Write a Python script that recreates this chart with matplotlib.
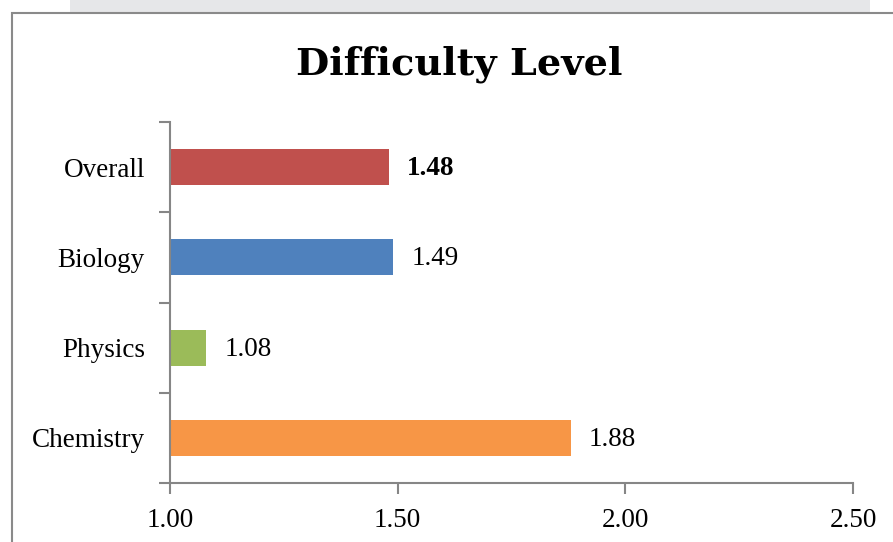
import matplotlib.pyplot as plt
from matplotlib.patches import Rectangle

categories = ["Chemistry", "Physics", "Biology", "Overall"]
values = [1.88, 1.08, 1.49, 1.48]
colors = ["#F79646", "#9BBB59", "#4F81BD", "#C0504D"]
xticks = [1.00, 1.50, 2.00, 2.50]
title = "Difficulty Level"

plt.rcParams["font.family"] = ["Liberation Serif", "DejaVu Serif"]

fig = plt.figure(figsize=(8.93, 5.42), dpi=100)
W, H = 893, 542

# page-like frame behind the chart
fig.patches.append(Rectangle((70 / W, 1 - 13 / H), 800 / W, 13 / H,
                             transform=fig.transFigure, facecolor="#E6E7E9",
                             edgecolor="none", zorder=-2))
fig.patches.append(Rectangle((12 / W, -0.05), 1.0, 1 - 13 / H + 0.05,
                             transform=fig.transFigure, facecolor="white",
                             edgecolor="#8A8A8A", linewidth=1.5, zorder=-2))

ax = fig.add_axes([170 / W, 1 - 483 / H, (853 - 170) / W, (483 - 122) / H])
ax.set_zorder(2)
ax.patch.set_alpha(0)

ypos = list(range(len(categories)))
widths = [v - xticks[0] for v in values]
ax.barh(ypos, widths, left=xticks[0], height=0.4, color=colors)

for y, v in zip(ypos, values):
    bold = categories[y] == "Overall"
    ax.annotate(f"{v:.2f}", (v, y), xytext=(13, -1), textcoords="offset points",
                va="center", ha="left", fontsize=19.5,
                fontweight="bold" if bold else "normal")

ax.set_xlim(xticks[0], xticks[-1])
ax.set_ylim(-0.5, len(categories) - 0.5)
ax.set_xticks(xticks)
ax.set_xticklabels([f"{t:.2f}" for t in xticks], fontsize=19.5)
ax.set_yticks(ypos)
ax.set_yticklabels(categories, fontsize=19.5)
ax.tick_params(axis="y", which="major", length=0, pad=18)
ax.set_yticks([y - 0.5 for y in ypos] + [len(categories) - 0.5], minor=True)
ax.tick_params(axis="y", which="minor", length=8, width=1.5, color="#868686")
ax.tick_params(axis="x", length=8, width=1.5, color="#868686", pad=10)

for side in ["top", "right"]:
    ax.spines[side].set_visible(False)
for side in ["left", "bottom"]:
    ax.spines[side].set_color("#868686")
    ax.spines[side].set_linewidth(1.5)

fig.text(459 / W, 1 - 64 / H, title, ha="center", va="center",
         fontsize=27.5, fontweight="bold", family="DejaVu Serif")

fig.savefig("out.png", dpi=100)
